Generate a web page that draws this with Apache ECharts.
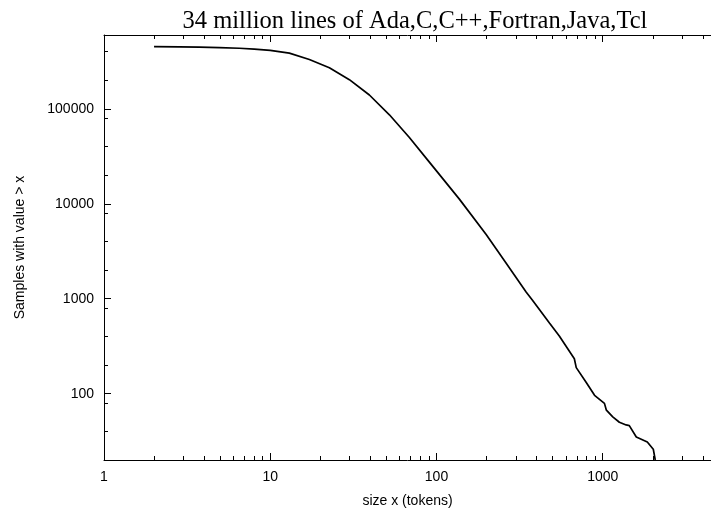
<!DOCTYPE html>
<html>
<head>
<meta charset="utf-8">
<script src="https://cdn.jsdelivr.net/npm/echarts@6/dist/echarts.min.js"></script>
<style>
  html, body { margin: 0; padding: 0; background: #fff; }
  #chart { width: 711px; height: 513px; }
</style>
</head>
<body>
<div id="chart"></div>
<script>
// (log-log cumulative count)
const sizeX = [2, 2.84, 3.745, 4.94, 6.52, 8.02, 10, 13.03, 17.19, 22.68, 29.92, 39.48, 52.09, 68.7, 90.6, 137.3,
  199, 262, 346, 379, 478, 548, 675, 693, 796, 893, 1024, 1052, 1149, 1259, 1383, 1445, 1592, 1854, 2014, 2070];
const samples = [452000, 450000, 447000, 442000, 435000, 426000, 414000, 386000, 331000, 271000, 203000, 140000, 86600, 49900, 27500, 11200,
  4750, 2380, 1180, 960, 556, 405, 233, 188, 131, 96, 79, 67, 57, 50, 46.8, 46, 35, 31, 26, 20];

const xMajor = [1, 10, 100, 1000];
const xMinor = [2, 3, 4, 5, 6, 7, 8, 9, 20, 30, 40, 50, 60, 70, 80, 90,
  200, 300, 400, 500, 600, 700, 800, 900, 2000, 3000, 4000];
const yMajor = [100, 1000, 10000, 100000];
const yMinor = [40, 80, 200, 400, 800, 2000, 4000, 8000, 20000, 40000, 80000, 200000, 400000];

const font = 'Liberation Sans, Arial, sans-serif';
const black = '#000';
const plain = v => String(Math.round(v));

function xAxisDef(pos, ticks, len, main) {
  return {
    type: 'log', logBase: 10, min: 1, max: 4480, position: pos, gridIndex: 0,
    axisLine: { show: main, lineStyle: { color: black, width: 1 } },
    axisTick: { show: true, inside: true, length: len, customValues: ticks, lineStyle: { color: black } },
    axisLabel: pos === 'bottom' && main
      ? { show: true, customValues: xMajor, formatter: plain, fontSize: 14, fontFamily: font, color: black, margin: 10 }
      : { show: false },
    splitLine: { show: false },
    name: pos === 'bottom' && main ? 'size x (tokens)' : '',
    nameLocation: 'middle', nameGap: 34,
    nameTextStyle: { fontSize: 14, fontFamily: font, color: black }
  };
}

function yAxisDef(ticks, len, main) {
  return {
    type: 'log', logBase: 10, min: 20, max: 600000, position: 'left', gridIndex: 0,
    axisLine: { show: main, lineStyle: { color: black, width: 1 } },
    axisTick: { show: true, inside: true, length: len, customValues: ticks, lineStyle: { color: black } },
    axisLabel: main
      ? { show: true, customValues: yMajor, formatter: plain, fontSize: 14, fontFamily: font, color: black, margin: 10 }
      : { show: false },
    splitLine: { show: false },
    name: main ? 'Samples with value > x' : '',
    nameLocation: 'middle', nameGap: 77, nameRotate: 90,
    nameTextStyle: { fontSize: 14, fontFamily: font, color: black }
  };
}

const chart = echarts.init(document.getElementById('chart'), null, { renderer: 'canvas' });
chart.setOption({
  animation: false,
  backgroundColor: '#fff',
  title: {
    text: '34 million lines of Ada,C,C++,Fortran,Java,Tcl',
    left: 410, textAlign: 'center', top: 4,
    textStyle: { fontFamily: 'Liberation Serif, Times New Roman, serif', fontWeight: 'normal', fontSize: 24.5, color: black }
  },
  grid: { left: 104, top: 35, right: 0, height: 430 },
  xAxis: [
    xAxisDef('bottom', xMajor, 7, true),
    xAxisDef('bottom', xMinor, 4, false),
    xAxisDef('top', xMajor, 7, true),
    xAxisDef('top', xMinor, 4, false)
  ],
  yAxis: [
    yAxisDef(yMajor, 7, true),
    yAxisDef(yMinor, 4, false)
  ],
  series: [{
    type: 'line',
    xAxisIndex: 0, yAxisIndex: 0,
    data: sizeX.map((x, i) => [x, samples[i]]),
    showSymbol: false,
    lineStyle: { color: black, width: 1.7 },
    clip: true
  }]
});
</script>
</body>
</html>
